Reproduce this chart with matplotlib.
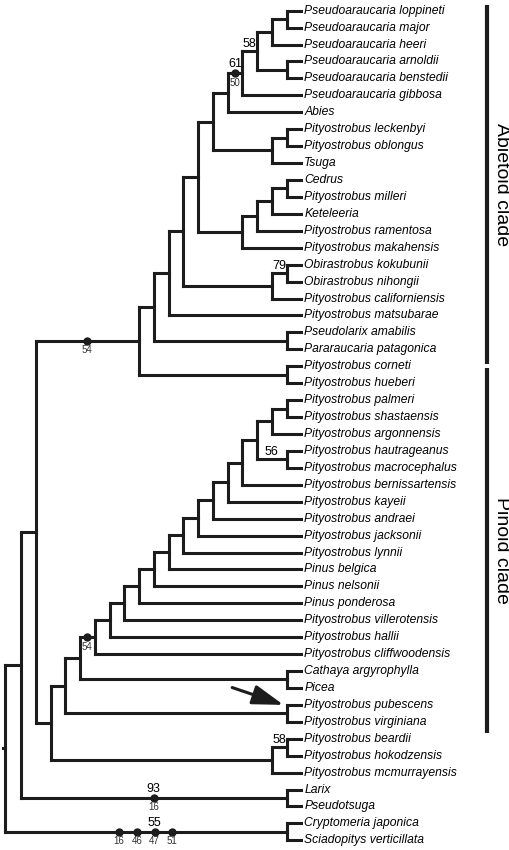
import matplotlib.pyplot as plt

plt.rcParams['font.family'] = ['Liberation Sans', 'DejaVu Sans']

# tip labels, top to bottom
taxa = [
    "Pseudoaraucaria loppineti", "Pseudoaraucaria major", "Pseudoaraucaria heeri",
    "Pseudoaraucaria arnoldii", "Pseudoaraucaria benstedii", "Pseudoaraucaria gibbosa",
    "Abies", "Pityostrobus leckenbyi", "Pityostrobus oblongus", "Tsuga", "Cedrus",
    "Pityostrobus milleri", "Keteleeria", "Pityostrobus ramentosa",
    "Pityostrobus makahensis", "Obirastrobus kokubunii", "Obirastrobus nihongii",
    "Pityostrobus californiensis", "Pityostrobus matsubarae", "Pseudolarix amabilis",
    "Pararaucaria patagonica", "Pityostrobus corneti", "Pityostrobus hueberi",
    "Pityostrobus palmeri", "Pityostrobus shastaensis", "Pityostrobus argonnensis",
    "Pityostrobus hautrageanus", "Pityostrobus macrocephalus",
    "Pityostrobus bernissartensis", "Pityostrobus kayeii", "Pityostrobus andraei",
    "Pityostrobus jacksonii", "Pityostrobus lynnii", "Pinus belgica", "Pinus nelsonii",
    "Pinus ponderosa", "Pityostrobus villerotensis", "Pityostrobus hallii",
    "Pityostrobus cliffwoodensis", "Cathaya argyrophylla", "Picea",
    "Pityostrobus pubescens", "Pityostrobus virginiana", "Pityostrobus beardii",
    "Pityostrobus hokodzensis", "Pityostrobus mcmurrayensis", "Larix", "Pseudotsuga",
    "Cryptomeria japonica", "Sciadopitys verticillata",
]

# internal nodes, children first: (node, depth level, children)
clades = [
    ("a1", 18, ["Pseudoaraucaria loppineti", "Pseudoaraucaria major"]),
    ("a2", 17, ["a1", "Pseudoaraucaria heeri"]),
    ("a3", 18, ["Pseudoaraucaria arnoldii", "Pseudoaraucaria benstedii"]),
    ("a4", 16, ["a2", "a3"]),
    ("a5", 15, ["a4", "Pseudoaraucaria gibbosa"]),
    ("a6", 14, ["a5", "Abies"]),
    ("a7", 18, ["Pityostrobus leckenbyi", "Pityostrobus oblongus"]),
    ("a8", 17, ["a7", "Tsuga"]),
    ("a9", 13, ["a6", "a8"]),
    ("a10", 18, ["Cedrus", "Pityostrobus milleri"]),
    ("a11", 17, ["a10", "Keteleeria"]),
    ("a12", 16, ["a11", "Pityostrobus ramentosa"]),
    ("a13", 15, ["a12", "Pityostrobus makahensis"]),
    ("a14", 12, ["a9", "a13"]),
    ("a15", 18, ["Obirastrobus kokubunii", "Obirastrobus nihongii"]),
    ("a16", 17, ["a15", "Pityostrobus californiensis"]),
    ("a17", 11, ["a14", "a16"]),
    ("a18", 10, ["a17", "Pityostrobus matsubarae"]),
    ("a19", 18, ["Pseudolarix amabilis", "Pararaucaria patagonica"]),
    ("a20", 9, ["a18", "a19"]),
    ("a21", 18, ["Pityostrobus corneti", "Pityostrobus hueberi"]),
    ("a22", 8, ["a20", "a21"]),
    ("p1", 18, ["Pityostrobus palmeri", "Pityostrobus shastaensis"]),
    ("p2", 17, ["p1", "Pityostrobus argonnensis"]),
    ("p3", 18, ["Pityostrobus hautrageanus", "Pityostrobus macrocephalus"]),
    ("p4", 16, ["p2", "p3"]),
    ("p5", 15, ["p4", "Pityostrobus bernissartensis"]),
    ("p6", 14, ["p5", "Pityostrobus kayeii"]),
    ("p7", 13, ["p6", "Pityostrobus andraei"]),
    ("p8", 12, ["p7", "Pityostrobus jacksonii"]),
    ("p9", 11, ["p8", "Pityostrobus lynnii"]),
    ("p10", 10, ["p9", "Pinus belgica"]),
    ("p11", 9, ["p10", "Pinus nelsonii"]),
    ("p12", 8, ["p11", "Pinus ponderosa"]),
    ("p13", 7, ["p12", "Pityostrobus villerotensis"]),
    ("p14", 6, ["p13", "Pityostrobus hallii"]),
    ("p15", 5, ["p14", "Pityostrobus cliffwoodensis"]),
    ("p16", 18, ["Cathaya argyrophylla", "Picea"]),
    ("p17", 4, ["p15", "p16"]),
    ("p18", 18, ["Pityostrobus pubescens", "Pityostrobus virginiana"]),
    ("p19", 3, ["p17", "p18"]),
    ("p20", 18, ["Pityostrobus beardii", "Pityostrobus hokodzensis"]),
    ("p21", 17, ["p20", "Pityostrobus mcmurrayensis"]),
    ("p22", 2, ["p19", "p21"]),
    ("b1", 1, ["a22", "p22"]),
    ("b2", 18, ["Larix", "Pseudotsuga"]),
    ("b3", 0, ["b1", "b2"]),
    ("b4", 18, ["Cryptomeria japonica", "Sciadopitys verticillata"]),
    ("root", -1.08, ["b3", "b4"]),
]
tip_level = 19

# bootstrap values (above branch) and character changes (dots, numbers below)
bootstrap = {"a4": "58", "a5": "61", "a15": "79", "p3": "56", "p20": "58",
             "b2": "93", "b4": "55"}
changes = {"a5": ["50"], "a22": ["54"], "p15": ["54"], "b2": ["16"],
           "b4": ["16", "46", "47", "51"]}

clade_names = ["Abietoid clade", "Pinoid clade"]
clade_first = ["Pseudoaraucaria loppineti", "Pityostrobus corneti"]
clade_last = ["Pararaucaria patagonica", "Pityostrobus virginiana"]

# ---- layout
col = '#1c1c1c'
line = dict(color=col, lw=2.2, solid_capstyle='projecting')

fig = plt.figure(figsize=(5.1, 8.5), dpi=100)
ax = fig.add_axes([0, 0, 1, 1])
ax.axis('off')
ax.set_xlim(-1.424, 33.15)
ax.set_ylim(49.57, -0.632)

px = {t: tip_level for t in taxa}
py = {t: i for i, t in enumerate(taxa)}
parent = {}
for name, level, kids in clades:
    px[name] = level
    py[name] = (py[kids[0]] + py[kids[1]]) / 2
    for k in kids:
        parent[k] = name

for name, level, kids in clades:
    ys = [py[k] for k in kids]
    ax.plot([level, level], [min(ys), max(ys)], **line)
    for k in kids:
        ax.plot([level, px[k]], [py[k], py[k]], **line)
# root stub
ax.plot([px["root"] - 0.12, px["root"]], [py["root"]] * 2, color=col, lw=2.2)

for t in taxa:
    ax.text(tip_level + 0.2, py[t], t, style='italic', fontsize=8.7,
            ha='left', va='center')

# dots + labels
dot_step = 1.2
for node, labs in changes.items():
    mid = (px[parent[node]] + px[node]) / 2
    n = len(labs)
    xs = [mid + (j - (n - 1) / 2) * dot_step for j in range(n)]
    ax.plot(xs, [py[node]] * n, 'o', color=col, ms=5, zorder=3)
    for x, lab in zip(xs, labs):
        ax.annotate(lab, (x, py[node]), xytext=(0, -3.2), textcoords='offset points',
                    ha='center', va='top', fontsize=7, color='#333333')

for node, lab in bootstrap.items():
    if node in changes:
        mid = (px[parent[node]] + px[node]) / 2
        n = len(changes[node])
        x = mid + (n // 2 - (n - 1) / 2) * dot_step
        off = 4.5
    else:
        x = (px[parent[node]] + px[node]) / 2
        off = 3
    ax.annotate(lab, (x, py[node]), xytext=(0, off), textcoords='offset points',
                ha='center', va='baseline', fontsize=9)

# arrow towards P. pubescens
ax.annotate('', xy=(px["p18"] - 0.2, py["Pityostrobus pubescens"]),
            xytext=(-37, 12.5), textcoords='offset points',
            arrowprops=dict(arrowstyle='-|>,head_length=1.9,head_width=0.6',
                            mutation_scale=10, lw=2.2, color=col,
                            shrinkA=0, shrinkB=0))

# clade bars
bar_x = 31.61
for name, first, last, top_pad, bot_pad in zip(clade_names, clade_first, clade_last,
                                                [0.35, -0.1], [0.85, 0.65]):
    y0 = py[first] - top_pad
    y1 = py[last] + bot_pad
    ax.plot([bar_x, bar_x], [y0, y1], color=col, lw=3, solid_capstyle='butt')
    ax.text(bar_x + 0.93, (y0 + y1) / 2, name, rotation=270, fontsize=14,
            ha='center', va='center')

fig.savefig('out.png', dpi=100)
